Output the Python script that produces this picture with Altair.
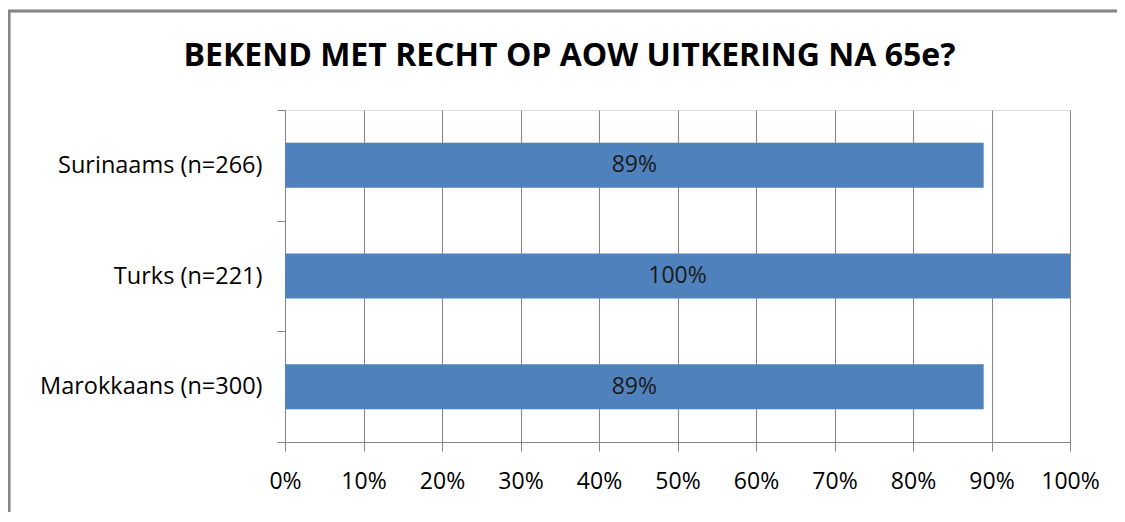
import altair as alt
import pandas as pd

categories = ["Surinaams (n=266)", "Turks (n=221)", "Marokkaans (n=300)"]
values = [0.89, 1.00, 0.89]
labels = ["89%", "100%", "89%"]
x_ticks = [0, 0.1, 0.2, 0.3, 0.4, 0.5, 0.6, 0.7, 0.8, 0.9, 1.0]

df = pd.DataFrame({"cat": categories, "val": values, "label": labels})
df["half"] = df["val"] / 2

W, H = 785, 332
FONT = "Open Sans"
GREY = "#868686"

y_enc = alt.Y(
    "cat:N", sort=categories, title=None,
    scale=alt.Scale(paddingInner=0, paddingOuter=0),
    axis=alt.Axis(tickBand="extent", tickSize=8, labelPadding=15,
                  labelFontSize=23.5, labelFont=FONT, labelColor="#000000",
                  domainColor=GREY, tickColor=GREY, grid=False, labelLimit=400),
)

bars = alt.Chart(df).mark_bar(size=45, color="#4F81BD").encode(
    x=alt.X("val:Q", title=None,
            scale=alt.Scale(domain=[0, 1], nice=False),
            axis=alt.Axis(values=x_ticks, format=".0%", tickSize=9, labelPadding=19,
                          labelFlush=False,
                          labelFontSize=23, labelFont=FONT, labelColor="#000000",
                          domainColor=GREY, tickColor=GREY, grid=True,
                          gridColor=GREY, gridOpacity=1, gridWidth=1)),
    y=y_enc,
)

text = alt.Chart(df).mark_text(font=FONT, fontSize=23, color="#1a1a1a").encode(
    x="half:Q",
    y=alt.Y("cat:N", sort=categories),
    text="label:N",
)

border = alt.Chart(df).mark_rect(fill=None, stroke=GREY, strokeWidth=2.5).encode(
    x=alt.value(-276), x2=alt.value(W + 300),
    y=alt.value(-99), y2=alt.value(H + 300),
)

chart = alt.layer(border, bars, text).properties(
    width=W, height=H,
    title=alt.Title("BEKEND MET RECHT OP AOW UITKERING NA 65e?", font=FONT,
                    fontSize=32, fontWeight="bold", color="#000000",
                    anchor="middle", frame="group", baseline="alphabetic",
                    offset=0, dx=-108, dy=88),
    autosize=alt.AutoSizeParams(type="none"),
    padding={"left": 277, "top": 102, "right": 47, "bottom": 70},
).configure_view(stroke=None).configure(background="white")

chart.save("out.html", embed_options={"renderer": "svg", "actions": False})
